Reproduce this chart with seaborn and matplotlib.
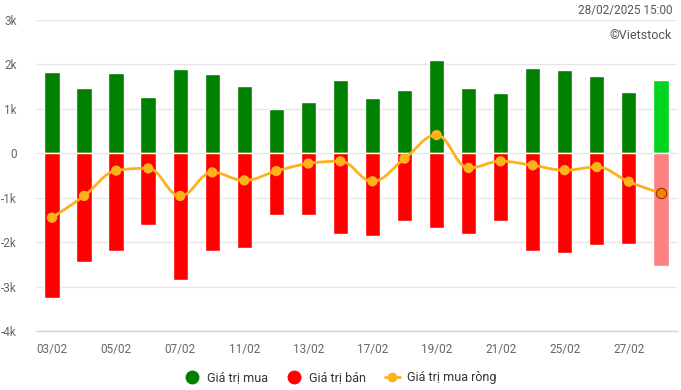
import numpy as np
import pandas as pd
import matplotlib.pyplot as plt
import seaborn as sns
from matplotlib.path import Path
from matplotlib.patches import PathPatch
from matplotlib.lines import Line2D

# Dữ liệu (tỷ đồng)
dates = ['03/02', '04/02', '05/02', '06/02', '07/02', '10/02', '11/02', '12/02', '13/02', '14/02',
         '17/02', '18/02', '19/02', '20/02', '21/02', '24/02', '25/02', '26/02', '27/02', '28/02']
buy = [1820, 1480, 1800, 1260, 1890, 1780, 1510, 990, 1150, 1640,
       1240, 1420, 2090, 1480, 1350, 1930, 1870, 1750, 1390, 1640]
sell = [-3250, -2440, -2190, -1610, -2850, -2190, -2130, -1390, -1390, -1810,
        -1860, -1530, -1680, -1810, -1530, -2190, -2240, -2060, -2040, -2530]
net = [-1450, -960, -390, -340, -960, -430, -610, -400, -230, -180,
       -630, -120, 410, -330, -180, -270, -380, -310, -640, -900]

df = pd.DataFrame({'date': dates, 'buy': buy, 'sell': sell, 'net': net})

sns.set_theme(style='white')
plt.rcParams['font.family'] = ['Roboto', 'DejaVu Sans']

fig = plt.figure(figsize=(6.81, 3.9), dpi=100)
ax = fig.add_axes([0.0529, 0.1513, 0.941, 0.7974])

buy_colors = ['#008000'] * (len(df) - 1) + ['#00d41e']
sell_colors = ['#ff0000'] * (len(df) - 1) + ['#ff8080']

sns.barplot(data=df, x='date', y='buy', hue='date', palette=buy_colors, legend=False,
            saturation=1, width=0.48, edgecolor='white', linewidth=1, ax=ax, zorder=2)
sns.barplot(data=df, x='date', y='sell', hue='date', palette=sell_colors, legend=False,
            saturation=1, width=0.48, edgecolor='white', linewidth=1, ax=ax, zorder=2)

# Đường spline kiểu Highcharts
xs = np.arange(len(df), dtype=float)
ys = df['net'].to_numpy(dtype=float)
sm, den = 1.5, 2.5
lc, rc = [], []
for i in range(len(xs)):
    if i == 0 or i == len(xs) - 1:
        lc.append((xs[i], ys[i]))
        rc.append((xs[i], ys[i]))
        continue
    lx = (sm * xs[i] + xs[i - 1]) / den
    ly = (sm * ys[i] + ys[i - 1]) / den
    rx = (sm * xs[i] + xs[i + 1]) / den
    ry = (sm * ys[i] + ys[i + 1]) / den
    if rx != lx:
        corr = ((ry - ly) * (rx - xs[i])) / (rx - lx) + ys[i] - ry
        ly += corr
        ry += corr
    if ly > max(ys[i - 1], ys[i]):
        ly = max(ys[i - 1], ys[i]); ry = 2 * ys[i] - ly
    elif ly < min(ys[i - 1], ys[i]):
        ly = min(ys[i - 1], ys[i]); ry = 2 * ys[i] - ly
    if ry > max(ys[i + 1], ys[i]):
        ry = max(ys[i + 1], ys[i]); ly = 2 * ys[i] - ry
    elif ry < min(ys[i + 1], ys[i]):
        ry = min(ys[i + 1], ys[i]); ly = 2 * ys[i] - ry
    lc.append((lx, ly))
    rc.append((rx, ry))

verts = [(xs[0], ys[0])]
codes = [Path.MOVETO]
for i in range(1, len(xs)):
    verts += [rc[i - 1], lc[i], (xs[i], ys[i])]
    codes += [Path.CURVE4] * 3
ax.add_patch(PathPatch(Path(verts, codes), facecolor='none', edgecolor='#ffb11b',
                       linewidth=2, zorder=3))

sns.scatterplot(x=xs[:-1], y=ys[:-1], color='#ffb11b', s=55, edgecolor='none', ax=ax, zorder=4)
sns.scatterplot(x=xs[-1:], y=ys[-1:], color='#ff7f00', s=55, edgecolor='#7a3d00',
                linewidth=0.8, ax=ax, zorder=5)

ax.set_xlim(-0.5, len(df) - 0.5)
ax.set_ylim(-4000, 3000)
yticks = [3000, 2000, 1000, 0, -1000, -2000, -3000, -4000]
ylabels = ['3k', '2k', '1k', '0', '-1k', '-2k', '-3k', '-4k']
ax.set_yticks(yticks)
ax.set_yticklabels(ylabels)
ax.set_xticks(range(0, len(df), 2))
ax.set_xticklabels(dates[::2])
ax.tick_params(axis='both', length=0, labelsize=8.5, labelcolor='#666666')
ax.tick_params(axis='y', pad=14)
ax.tick_params(axis='x', pad=9)
ax.yaxis.grid(True, color='#e6e6e6', linewidth=1, zorder=0)
ax.set_axisbelow(True)
ax.set_xlabel('')
ax.set_ylabel('')
for s in ['top', 'right', 'left']:
    ax.spines[s].set_visible(False)
ax.spines['bottom'].set_color('#ccd6eb')
ax.spines['bottom'].set_linewidth(1)

fig.text(0.987, 0.972, '28/02/2025 15:00', ha='right', va='center', fontsize=8.5, color='#555555')
fig.text(0.987, 0.91, '©Vietstock', ha='right', va='center', fontsize=9, color='#555555')

handles = [
    Line2D([], [], marker='o', linestyle='none', markersize=9, color='#008000'),
    Line2D([], [], marker='o', linestyle='none', markersize=9, color='#ff0000'),
    Line2D([], [], marker='o', linestyle='-', linewidth=2, markersize=6, color='#ffb11b'),
]
fig.legend(handles, ['Giá trị mua', 'Giá trị bán', 'Giá trị mua ròng'], loc='center',
           bbox_to_anchor=(0.5, 0.032), ncol=3, frameon=False, fontsize=9,
           handlelength=1.2, handletextpad=0.6, columnspacing=1.5, labelcolor='#333333')

plt.savefig('out.png', dpi=100)
